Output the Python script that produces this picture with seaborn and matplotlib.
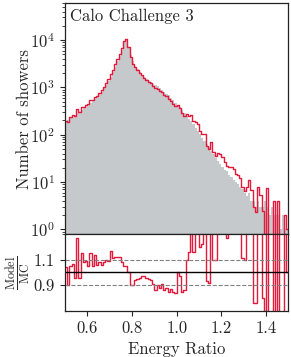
import matplotlib
matplotlib.use("Agg")
import matplotlib.pyplot as plt
import numpy as np
import pandas as pd
import seaborn as sns

# 100 bins of width 0.01 from 0.5 to 1.5
bin_edges = [round(0.5 + 0.01 * i, 2) for i in range(101)]

# reference (MC) shower counts per bin
mc_counts = [
    191, 204, 224, 240, 263, 282, 309, 331, 363, 389,
    427, 468, 513, 562, 617, 708, 813, 955, 1122, 1349,
    1622, 2089, 2754, 3548, 4571, 6310, 8913, 10000, 7244, 4786,
    3548, 2884, 2399, 2089, 1862, 1660, 1514, 1380, 1288, 1202,
    1122, 1047, 977, 891, 813, 741, 676, 603, 537, 479,
    427, 380, 331, 288, 251, 219, 191, 166, 141, 120,
    102, 87, 74, 63, 54, 46, 39, 33, 28, 24,
    21, 18, 17, 14, 13, 11, 10, 9, 8, 7,
    6, 5, 6, 4, 4, 3, 4, 3, 3, 4,
    3, 2, 3, 2, 2, 2, 1, 2, 1, 1,
]

# Model / MC ratio per bin
ratio = [
    1.04, 0.90, 1.05, 1.07, 0.96, 1.27, 0.96, 1.15, 1.08, 1.09,
    1.05, 1.15, 1.05, 1.14, 1.06, 1.08, 1.06, 1.08, 1.10, 1.09,
    1.17, 1.11, 1.12, 1.12, 1.12, 1.08, 1.05, 1.05, 1.00, 0.90,
    0.90, 0.94, 0.95, 0.96, 0.97, 0.97, 0.96, 0.95, 0.94, 0.91,
    0.86, 0.90, 0.88, 0.91, 0.86, 0.88, 0.85, 0.87, 0.85, 0.84,
    1.00, 0.97, 0.85, 0.86, 1.10, 1.16, 1.35, 1.16, 1.35, 1.40,
    1.20, 1.22, 1.40, 0.93, 0.92, 1.50, 1.10, 1.10, 1.50, 1.60,
    1.60, 1.50, 1.27, 1.50, 1.60, 1.70, 1.50, 1.60, 1.50, 1.11,
    1.10, 1.60, 1.80, 1.70, 0.76, 0.76, 2.00, 1.80, 0.80, 0.00,
    2.50, 0.00, 0.00, 2.00, 0.00, 2.00, 0.00, 0.00, 2.00, 1.00,
]

edges = np.array(bin_edges)
df = pd.DataFrame({
    "energy_ratio": 0.5 * (edges[:-1] + edges[1:]),
    "mc": np.array(mc_counts, dtype=float),
    "ratio": np.array(ratio),
})
df["model"] = df["mc"] * df["ratio"]

sns.set_style("ticks")
plt.rcParams["font.family"] = "serif"
plt.rcParams["font.serif"] = ["cmr10", "DejaVu Serif"]
plt.rcParams["mathtext.fontset"] = "cm"
plt.rcParams["axes.formatter.use_mathtext"] = True
plt.rcParams["font.size"] = 12
plt.rcParams["axes.linewidth"] = 0.9
plt.rcParams["axes.edgecolor"] = "#222222"

grey = "#c5c9cc"
red = "#e41a3c"

fig = plt.figure(figsize=(2.91, 3.57), dpi=100)
gs = fig.add_gridspec(2, 1, height_ratios=[3, 1], hspace=0,
                      left=0.223, right=0.991, top=0.991, bottom=0.129)
ax = fig.add_subplot(gs[0])
rax = fig.add_subplot(gs[1], sharex=ax)

sns.histplot(data=df, x="energy_ratio", weights="mc", bins=bin_edges,
             element="step", fill=True, color=grey, alpha=1.0, linewidth=0, ax=ax)
sns.histplot(data=df, x="energy_ratio", weights="model", bins=bin_edges,
             element="step", fill=False, color=red, linewidth=1.0, ax=ax)
ax.set_yscale("log")
ax.set_ylim(0.8, 6e4)
ax.set_xlim(0.5, 1.5)
ax.set_ylabel("Number of showers")
ax.set_xlabel("")
ax.yaxis.set_label_coords(-0.148, 0.5)
ax.tick_params(axis="x", bottom=False, labelbottom=False)
ax.tick_params(axis="y", which="both", direction="out")
ax.text(0.022, 0.975, "Calo Challenge 3", transform=ax.transAxes,
        ha="left", va="top", fontsize=12)

sns.histplot(data=df, x="energy_ratio", weights="ratio", bins=bin_edges,
             element="step", fill=False, color=red, linewidth=1.0, ax=rax)
rax.axhline(1.0, color="black", linewidth=1.0)
rax.axhline(1.1, color="grey", linestyle="--", linewidth=0.8)
rax.axhline(0.9, color="grey", linestyle="--", linewidth=0.8)
rax.set_ylim(0.7, 1.3)
rax.set_yticks([0.9, 1.1])
rax.set_yticklabels(["0.9", "1.1"])
rax.set_xticks([0.6, 0.8, 1.0, 1.2, 1.4])
rax.set_xticklabels(["0.6", "0.8", "1.0", "1.2", "1.4"])
rax.set_xlim(0.5, 1.5)
rax.set_xlabel("Energy Ratio")
rax.set_ylabel(r"$\frac{\mathrm{Model}}{\mathrm{MC}}$", fontsize=12.5)
rax.yaxis.label.set_verticalalignment("center")
rax.yaxis.set_label_coords(-0.21, 0.5)

fig.savefig("out.png", dpi=100)
